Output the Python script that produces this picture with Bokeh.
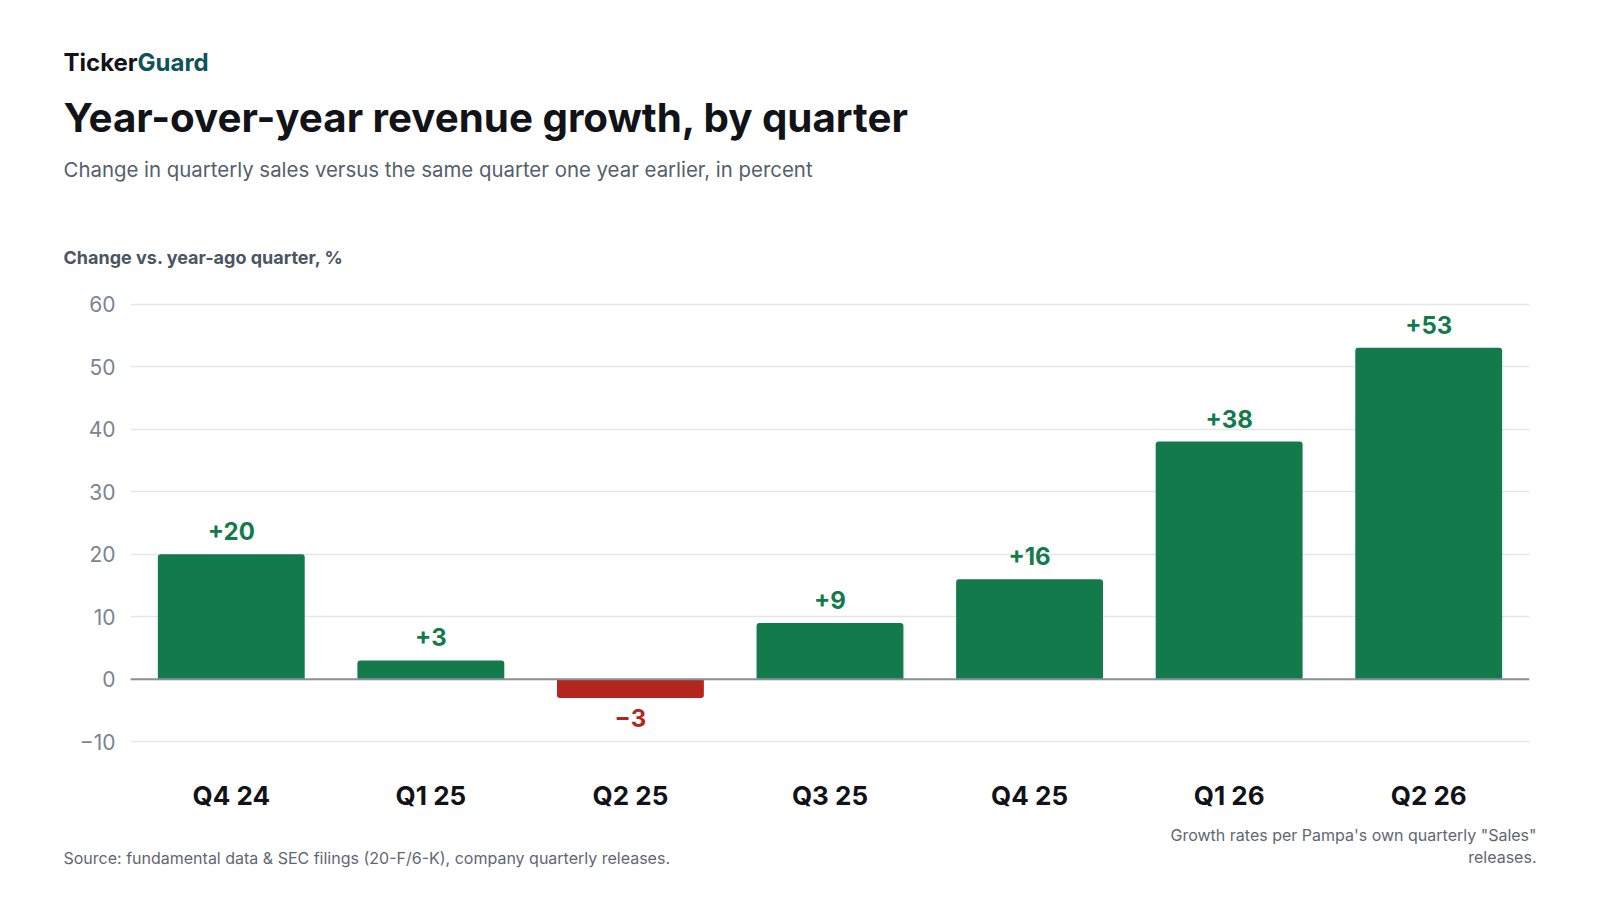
from bokeh.plotting import figure
from bokeh.models import (ColumnDataSource, FactorRange, Range1d, FixedTicker, Span,
                          Label, CDSView, BooleanFilter)
from bokeh.core.properties import value
from bokeh.embed import file_html
from bokeh.resources import INLINE

# ---- data ----
quarters = ["Q4 24", "Q1 25", "Q2 25", "Q3 25", "Q4 25", "Q1 26", "Q2 26"]
growth = [20, 3, -3, 9, 16, 38, 53]
y_ticks = [-10, 0, 10, 20, 30, 40, 50, 60]

brand_a = "Ticker"
brand_b = "Guard"
title_text = "Year-over-year revenue growth, by quarter"
subtitle_text = "Change in quarterly sales versus the same quarter one year earlier, in percent"
yaxis_title = "Change vs. year-ago quarter, %"
source_text = "Source: fundamental data & SEC filings (20-F/6-K), company quarterly releases."
note_lines = ["Growth rates per Pampa's own quarterly \"Sales\"", "releases."]

FONT = "Inter"
GREEN = "#127a4b"
RED = "#b3261e"
W = 1600
H_HEAD, H_MAIN, H_FOOT = 280, 540, 80
BL, BR = 130, 71
X0 = 63


def fmt(v):
    return ("+" if v >= 0 else "\u2212") + str(abs(v))


def blank(h):
    f = figure(width=W, height=h, output_backend="svg", toolbar_location=None,
               x_range=Range1d(0, W), y_range=Range1d(h, 0),
               x_axis_type=None, y_axis_type=None,
               min_border_left=0, min_border_right=0,
               min_border_top=0, min_border_bottom=0)
    f.outline_line_color = None
    f.grid.grid_line_color = None
    f.background_fill_color = "white"
    f.border_fill_color = "white"
    return f


def lab(f, text, x, y, size, color, style="normal", align="left"):
    # small correction for where the svg backend puts the alphabetic baseline
    yy = y - (2 + 0.28 * size)
    f.add_layout(Label(x=x, y=yy, text=text, text_font=FONT, text_font_size=f"{size}px",
                       text_color=color, text_font_style=style, text_align=align,
                       text_baseline="alphabetic"))


# ---- header ----
head = blank(H_HEAD)
lab(head, brand_a, X0, 70.7, 24, "#111318", "bold")
lab(head, brand_b, X0 + 74, 70.7, 24, "#0f5257", "bold")
lab(head, title_text, X0, 130.5, 40.3, "#111318", "bold")
lab(head, subtitle_text, X0, 176.7, 20.4, "#555f6d")
lab(head, yaxis_title, X0, 264.3, 18, "#4b5563", "bold")

# ---- main chart ----
pos = [v >= 0 for v in growth]
src = ColumnDataSource(dict(
    q=quarters,
    v=growth,
    lab=[fmt(v) for v in growth],
    col=[GREEN if v >= 0 else RED for v in growth],
))

p = figure(width=W, height=H_MAIN, output_backend="svg", toolbar_location=None,
           x_range=FactorRange(factors=quarters, range_padding=0.005, range_padding_units="absolute"),
           y_range=Range1d(-13, 62),
           min_border_left=BL, min_border_right=BR, min_border_top=11, min_border_bottom=60)
p.background_fill_color = "white"
p.border_fill_color = "white"
p.outline_line_color = None

pos_view = CDSView(filter=BooleanFilter(pos))
neg_view = CDSView(filter=BooleanFilter([not b for b in pos]))
p.vbar(x="q", top="v", bottom=0, width=0.736, source=src, view=pos_view,
       fill_color="col", line_color=None, border_radius=(3, 3, 0, 0))
p.vbar(x="q", top=0, bottom="v", width=0.736, source=src, view=neg_view,
       fill_color="col", line_color=None, border_radius=(0, 0, 3, 3))

p.text(x="q", y="v", text="lab", source=src, view=pos_view, text_color="col",
       text_font=value(FONT), text_font_style="bold", text_font_size="24px",
       text_align="center", text_baseline="alphabetic", y_offset=-23)
p.text(x="q", y="v", text="lab", source=src, view=neg_view, text_color="col",
       text_font=value(FONT), text_font_style="bold", text_font_size="24px",
       text_align="center", text_baseline="alphabetic", y_offset=20)

p.add_layout(Span(location=0, dimension="width", line_color="#8a9099", line_width=2))

p.xgrid.grid_line_color = None
p.ygrid.grid_line_color = "#e6e6e6"
p.ygrid.grid_line_width = 1.5
p.yaxis.ticker = FixedTicker(ticks=y_ticks)
p.yaxis.major_label_overrides = {t: (str(t) if t >= 0 else fmt(t)) for t in y_ticks}
for ax in (p.xaxis[0], p.yaxis[0]):
    ax.axis_line_color = None
    ax.major_tick_line_color = None
    ax.minor_tick_line_color = None
    ax.major_tick_out = 0
    ax.minor_tick_out = 0
    ax.major_label_text_font = FONT
p.yaxis.major_label_text_font_size = "21px"
p.yaxis.major_label_text_color = "#7b8490"
p.yaxis.major_label_standoff = 15
p.xaxis.major_label_text_font_size = "26px"
p.xaxis.major_label_text_font_style = "bold"
p.xaxis.major_label_text_color = "#111318"
p.xaxis.major_label_standoff = 19

# ---- footer ----
foot = blank(H_FOOT)
lab(foot, source_text, X0, 44.3, 16, "#5f6773")
lab(foot, note_lines[0], 1536, 20.7, 16, "#5f6773", align="right")
lab(foot, note_lines[1], 1536, 43.3, 16, "#5f6773", align="right")

# three separate roots, stacked on the page (no frame alignment between them)
open("out.html", "w").write(file_html([head, p, foot], INLINE))
